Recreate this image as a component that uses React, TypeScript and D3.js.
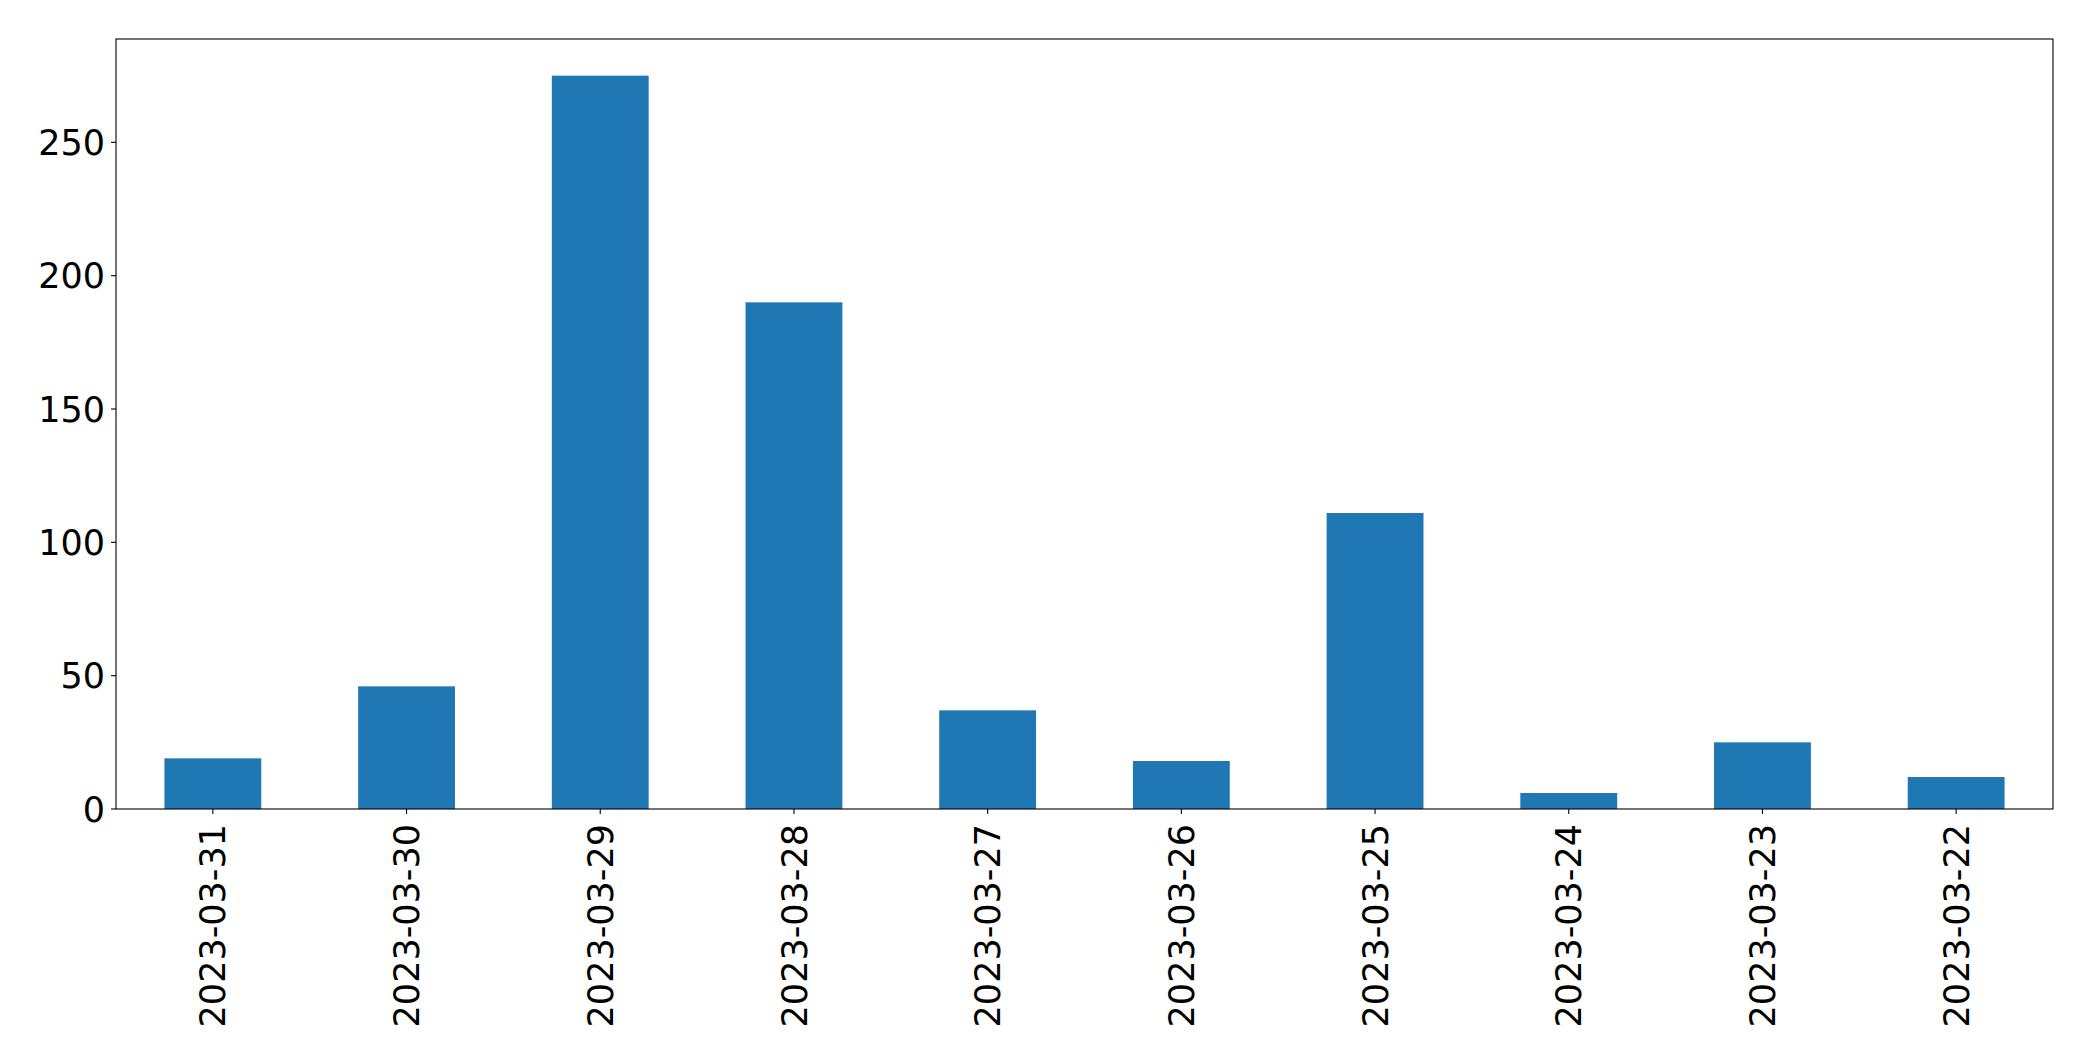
import React from "react";
import * as d3 from "d3";

const categories: string[] = [
  "2023-03-31",
  "2023-03-30",
  "2023-03-29",
  "2023-03-28",
  "2023-03-27",
  "2023-03-26",
  "2023-03-25",
  "2023-03-24",
  "2023-03-23",
  "2023-03-22",
];
const values: number[] = [19, 46, 275, 190, 37, 18, 111, 6, 25, 12];
const yTicks: number[] = [0, 50, 100, 150, 200, 250];

const W = 2093;
const H = 1061;
const margin = { left: 116, right: 40, top: 39, bottom: 252 };
const FONT = "'DejaVu Sans', sans-serif";
const FS = 35;

export default function App() {
  const x0 = margin.left;
  const x1 = W - margin.right;
  const y0 = H - margin.bottom;
  const y1 = margin.top;

  const x = d3
    .scaleLinear()
    .domain([-0.5, categories.length - 0.5])
    .range([x0, x1]);
  const ymax = (d3.max(values) as number) * 1.05;
  const y = d3.scaleLinear().domain([0, ymax]).range([y0, y1]);
  const barW = x(0.25) - x(-0.25);

  return (
    <svg
      width={W}
      height={H}
      style={{ position: "absolute", left: 0, top: 0, display: "block", background: "#fff" }}
      fontFamily={FONT}
    >
      <rect x={0} y={0} width={W} height={H} fill="#fff" />
      {values.map((v, i) => (
        <rect
          key={categories[i]}
          x={x(i) - barW / 2}
          y={y(v)}
          width={barW}
          height={y(0) - y(v)}
          fill="#1f77b4"
        />
      ))}
      {/* frame */}
      <rect
        x={x0}
        y={y1}
        width={x1 - x0}
        height={y0 - y1}
        fill="none"
        stroke="#000"
        strokeWidth={1.1}
      />
      {/* y ticks */}
      {yTicks.map((t) => (
        <g key={t} transform={`translate(0,${y(t)})`}>
          <line x1={x0 - 5} x2={x0} stroke="#000" strokeWidth={1.1} />
          <text
            x={x0 - 11}
            dy="0.36em"
            textAnchor="end"
            fontSize={FS}
            fill="#000"
          >
            {t}
          </text>
        </g>
      ))}
      {/* x ticks */}
      {categories.map((c, i) => (
        <g key={c} transform={`translate(${x(i)},${y0})`}>
          <line y1={0} y2={5} stroke="#000" strokeWidth={1.1} />
          <text
            transform={`translate(0,15) rotate(-90)`}
            dy="0.36em"
            textAnchor="end"
            fontSize={FS}
            fill="#000"
          >
            {c}
          </text>
        </g>
      ))}
    </svg>
  );
}
